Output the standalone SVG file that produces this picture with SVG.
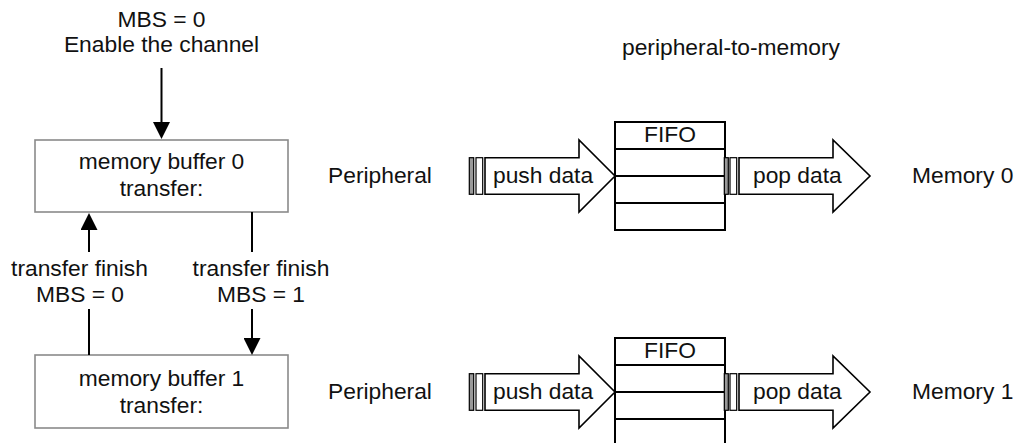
<svg xmlns="http://www.w3.org/2000/svg" width="1021" height="443" viewBox="0 0 1021 443">
<style>
text{font-family:"Liberation Sans",Arial,sans-serif;font-size:22.8px;fill:#111}
.c{text-anchor:middle}
.box{fill:#fff;stroke:#8a8a8a;stroke-width:1.6}
.conn{stroke:#000;stroke-width:2;fill:none}
.fifo{fill:#fff;stroke:#000;stroke-width:2}
.arr{fill:#fff;stroke:#000;stroke-width:1.6;stroke-linejoin:miter}
.bar1{fill:#999;stroke:#000;stroke-width:1.2}
.bar2{fill:#fff;stroke:#000;stroke-width:1.2}
</style>
<defs>
<marker id="ah" markerUnits="userSpaceOnUse" markerWidth="17" markerHeight="17" refX="0" refY="8.5" orient="auto" viewBox="0 0 17 17">
<path d="M0,0 L17,8.5 L0,17 z" fill="#000"/>
</marker>
</defs>
<g id="title-enable">
<text class="c" x="161.5" y="27">MBS = 0</text>
<text class="c" x="161.5" y="52">Enable the channel</text>
</g>
<g id="buffer0">
<rect class="box" x="35" y="140" width="253" height="72"/>
<text class="c" x="161.5" y="169">memory buffer 0</text>
<text class="c" x="161.5" y="196">transfer:</text>
</g>
<g id="buffer1">
<rect class="box" x="35" y="355" width="253" height="73"/>
<text class="c" x="161.5" y="386">memory buffer 1</text>
<text class="c" x="161.5" y="413">transfer:</text>
</g>
<g id="connectors">
<line class="conn" x1="161.5" y1="68" x2="161.5" y2="122" marker-end="url(#ah)"/>
<line class="conn" x1="89" y1="355" x2="89" y2="309"/>
<line class="conn" x1="89" y1="252" x2="89" y2="230" marker-end="url(#ah)"/>
<line class="conn" x1="252" y1="212" x2="252" y2="252"/>
<line class="conn" x1="252" y1="309" x2="252" y2="338" marker-end="url(#ah)"/>
</g>
<g id="label-finish0">
<text class="c" x="79.5" y="276">transfer finish</text>
<text class="c" x="80" y="302">MBS = 0</text>
</g>
<g id="label-finish1">
<text class="c" x="261" y="276">transfer finish</text>
<text class="c" x="261" y="302">MBS = 1</text>
</g>
<g id="mode-title">
<text x="622" y="55">peripheral-to-memory</text>
</g>
<g id="path0">
<text x="328" y="183">Peripheral</text>
<rect class="bar1" x="469.3" y="157.7" width="4.4" height="36.6"/>
<rect class="bar2" x="476" y="157.7" width="6.7" height="36.6"/>
<path class="arr" d="M485,157.7 H579 V140 L615,176 L579,212 V194.3 H485 Z"/>
<text x="493" y="183">push data</text>
<rect class="fifo" x="615" y="122" width="110" height="108"/>
<line class="fifo" x1="615" y1="149" x2="725" y2="149"/>
<line class="fifo" x1="615" y1="176" x2="725" y2="176"/>
<line class="fifo" x1="615" y1="203" x2="725" y2="203"/>
<text class="c" x="670" y="142">FIFO</text>
<rect class="bar1" x="724.3" y="157.7" width="4" height="36.6"/>
<rect class="bar2" x="730" y="157.7" width="6.7" height="36.6"/>
<path class="arr" d="M739,157.7 H833 V140 L870,176 L833,212 V194.3 H739 Z"/>
<text x="753" y="183">pop data</text>
<text x="912" y="183">Memory 0</text>
</g>
<g id="path1">
<text x="328" y="399">Peripheral</text>
<rect class="bar1" x="469.3" y="373.7" width="4.4" height="36.6"/>
<rect class="bar2" x="476" y="373.7" width="6.7" height="36.6"/>
<path class="arr" d="M485,373.7 H579 V356 L615,392 L579,428 V410.3 H485 Z"/>
<text x="493" y="399">push data</text>
<rect class="fifo" x="615" y="338" width="110" height="110"/>
<line class="fifo" x1="615" y1="365" x2="725" y2="365"/>
<line class="fifo" x1="615" y1="392" x2="725" y2="392"/>
<line class="fifo" x1="615" y1="419" x2="725" y2="419"/>
<text class="c" x="670" y="358">FIFO</text>
<rect class="bar1" x="724.3" y="373.7" width="4" height="36.6"/>
<rect class="bar2" x="730" y="373.7" width="6.7" height="36.6"/>
<path class="arr" d="M739,373.7 H833 V356 L870,392 L833,428 V410.3 H739 Z"/>
<text x="753" y="399">pop data</text>
<text x="912" y="399">Memory 1</text>
</g>
</svg>
